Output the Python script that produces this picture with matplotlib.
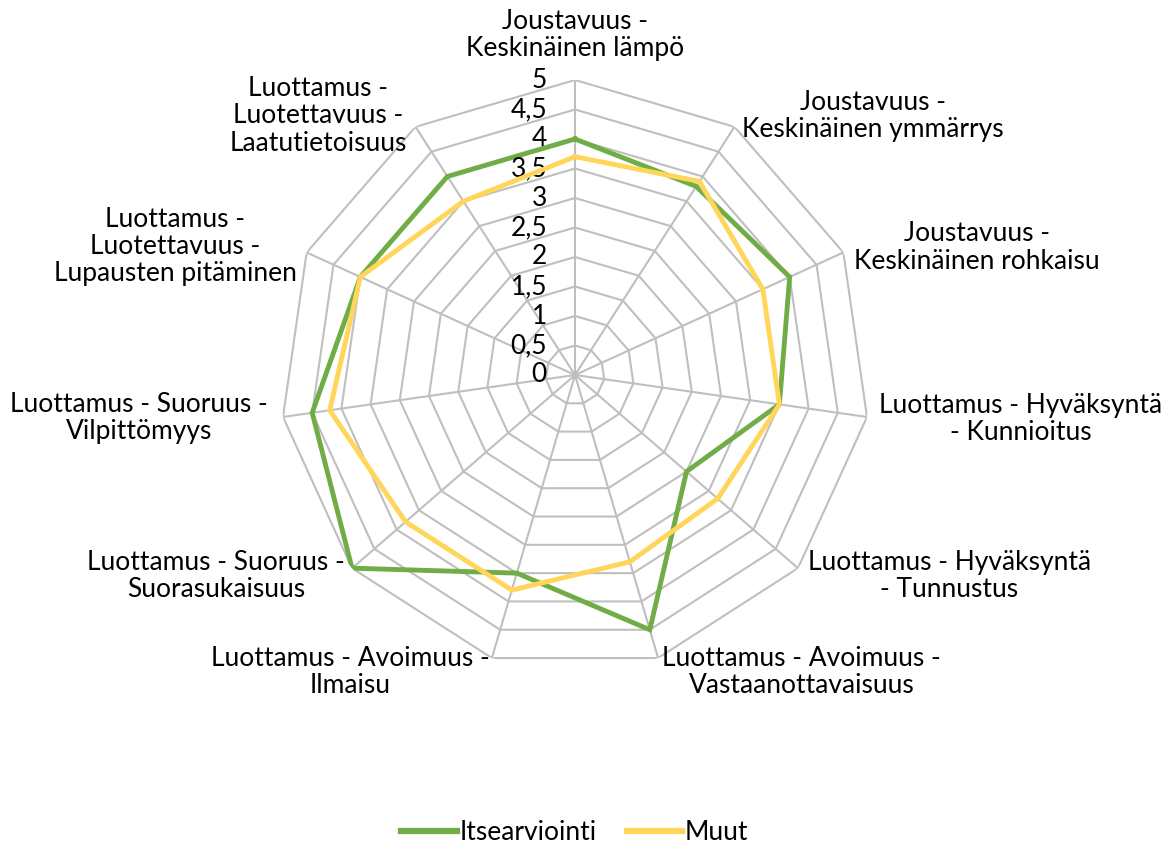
import numpy as np
import matplotlib
matplotlib.use("Agg")
import matplotlib.pyplot as plt
from matplotlib.lines import Line2D

plt.rcParams['font.family'] = ['Lato', 'DejaVu Sans']

categories = [
    "Joustavuus -\nKeskinäinen lämpö",
    "Joustavuus -\nKeskinäinen ymmärrys",
    "Joustavuus -\nKeskinäinen rohkaisu",
    "Luottamus - Hyväksyntä\n- Kunnioitus",
    "Luottamus - Hyväksyntä\n- Tunnustus",
    "Luottamus - Avoimuus -\nVastaanottavaisuus",
    "Luottamus - Avoimuus -\nIlmaisu",
    "Luottamus - Suoruus -\nSuorasukaisuus",
    "Luottamus - Suoruus -\nVilpittömyys",
    "Luottamus -\nLuotettavuus -\nLupausten pitäminen",
    "Luottamus -\nLuotettavuus -\nLaatutietoisuus",
]
itsearviointi = [4.0, 3.8, 4.0, 3.5, 2.5, 4.5, 3.5, 5.0, 4.5, 4.0, 4.0]
muut = [3.7, 3.9, 3.5, 3.5, 3.2, 3.3, 3.8, 3.8, 4.2, 4.0, 3.5]
series_names = ["Itsearviointi", "Muut"]
tick_values = [0, 0.5, 1, 1.5, 2, 2.5, 3, 3.5, 4, 4.5, 5]
tick_labels = ["0", "0,5", "1", "1,5", "2", "2,5", "3", "3,5", "4", "4,5", "5"]

GREEN = "#70AD47"
YELLOW = "#FFD659"
GRID = "#BFBFBF"
FS = 19

W, H = 1173, 849
fig = plt.figure(figsize=(W / 100, H / 100), dpi=100)
cx, cy, R = 575, 375, 295
ax = fig.add_axes([(cx - R) / W, 1 - (cy + R) / H, 2 * R / W, 2 * R / H], projection='polar')
ax.set_theta_zero_location('N')
ax.set_theta_direction(-1)
ax.set_ylim(0, 5)
ax.grid(False)
ax.spines['polar'].set_visible(False)
ax.set_xticks([])
ax.set_yticks([])
ax.patch.set_visible(False)

n = len(categories)
theta = np.linspace(0, 2 * np.pi, n, endpoint=False)
theta_c = np.concatenate([theta, theta[:1]])

# polygon grid
for r in tick_values[1:]:
    ax.plot(theta_c, [r] * (n + 1), color=GRID, lw=1.5, zorder=1)
for t in theta:
    ax.plot([t, t], [0, 5], color=GRID, lw=1.5, zorder=1)

# series
ax.plot(theta_c, itsearviointi + itsearviointi[:1], color=GREEN, lw=3.5, zorder=3,
        solid_joinstyle='miter')
ax.plot(theta_c, muut + muut[:1], color=YELLOW, lw=3.5, zorder=4, solid_joinstyle='miter')

# radial tick labels
for v, lab in zip(tick_values, tick_labels):
    ax.annotate(lab, xy=(0, v), xytext=(-28, 0), textcoords='offset pixels',
                ha='right', va='center', fontsize=FS, annotation_clip=False)

# category labels: (ha, dx, dy_down) relative to the outer vertex
label_layout = [
    ('center', 0, -45),
    ('left', 8, -11),
    ('left', 11, -5),
    ('left', 12, 2),
    ('left', 10, 8),
    ('left', 4, 14),
    ('right', -2, 14),
    ('right', -7, 8),
    ('right', -15, 1),
    ('right', -10, -6),
    ('right', -9, -11),
]
for t, lab, (ha, dx, dy) in zip(theta, categories, label_layout):
    ax.annotate(lab, xy=(t, 5), xytext=(dx, -dy), textcoords='offset pixels',
                ha=ha, va='center', multialignment='center', fontsize=FS,
                linespacing=1.12, annotation_clip=False)

handles = [Line2D([], [], color=GREEN, lw=4.5), Line2D([], [], color=YELLOW, lw=4.5)]
fig.legend(handles, series_names, loc='center', bbox_to_anchor=(0.49, 1 - 833 / H),
           ncol=2, frameon=False, fontsize=FS, handlelength=2.1, handletextpad=0.1,
           columnspacing=1.15)

fig.savefig("out.png", dpi=100)
